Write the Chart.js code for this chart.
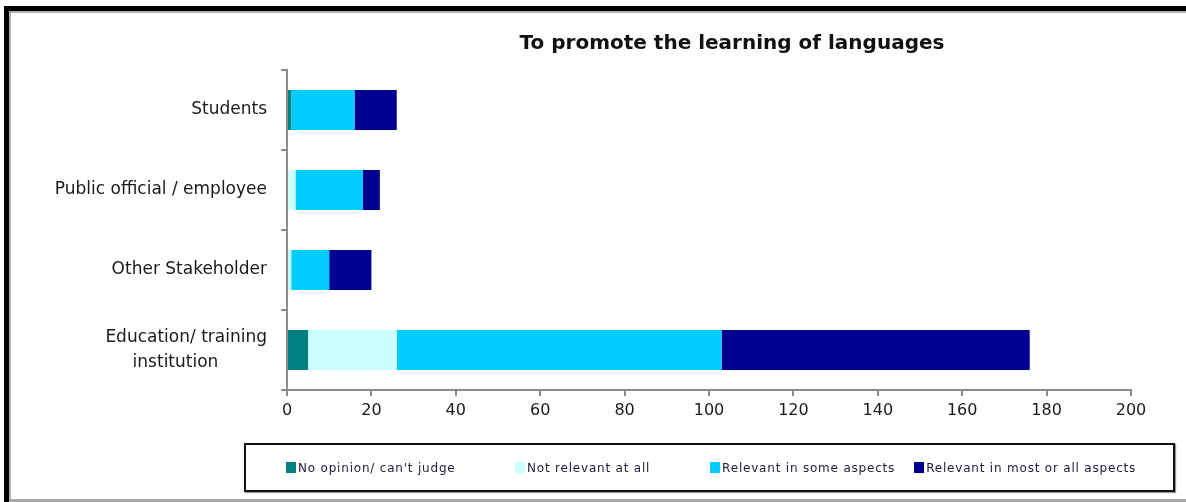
<!DOCTYPE html>
<html>
<head>
<meta charset="utf-8">
<script src="https://cdn.jsdelivr.net/npm/chart.js@4/dist/chart.umd.min.js"></script>
<style>
  html, body { margin: 0; padding: 0; background: #fff; }
  body { width: 1186px; height: 502px; position: relative; overflow: hidden; }
  #frame { position: absolute; left: 4px; top: 6px; width: 1182px; height: 496px; box-sizing: border-box;
           border-left: 5px solid #000; border-top: 5px solid #000; }
  #inner { position: absolute; left: 0; top: 0; right: 0; bottom: 0; box-sizing: border-box;
           border-left: 2px solid #b0b0b0; border-top: 2px solid #b0b0b0; border-bottom: 3px solid #a8a8a8; }
  #wrap { position: absolute; left: 0; top: 0; width: 1186px; height: 502px; }
  #legend { position: absolute; left: 244px; top: 443px; width: 931px; height: 49px; box-sizing: border-box;
            border: 2px solid #111; box-shadow: 1px 1px 1px #999; display: flex; align-items: center;
            font-family: "DejaVu Sans", sans-serif; font-size: 12px; color: #1b1b3a; letter-spacing: 0.8px; }
  .item { display: flex; align-items: center; white-space: nowrap; }
  .sw { width: 10px; height: 11px; margin-right: 2px; }
</style>
</head>
<body>
<div id="frame"><div id="inner"></div></div>
<div id="wrap"><canvas id="chart" width="1186" height="502"></canvas></div>
<div id="legend"></div>
<script>
// categories (top to bottom). second line of the last one is padded so it sits centred under the first
const categories = ['Students', 'Public official / employee', 'Other Stakeholder',
  ['Education/ training', 'institution\u00a0\u00a0\u00a0\u00a0\u00a0\u00a0\u00a0\u00a0\u00a0']];

// series
const seriesNames = ['No opinion/ can\'t judge', 'Not relevant at all', 'Relevant in some aspects', 'Relevant in most or all aspects'];
const noOpinion   = [1, 0, 0, 5];
const notRelevant = [0, 2, 1, 21];
const someAspects = [15, 16, 9, 77];
const mostAspects = [10, 4, 10, 73];
const colors = ['#008080', '#ccffff', '#00ccff', '#000090'];

const xTicks = [0, 20, 40, 60, 80, 100, 120, 140, 160, 180, 200];

const titleText = 'To promote the learning of languages';

const allSeries = [noOpinion, notRelevant, someAspects, mostAspects];

// title drawn by hand, it is not centred on the plot
const titlePlugin = {
  id: 'ownTitle',
  afterDraw(chart) {
    const c = chart.ctx;
    c.save();
    c.font = 'bold 20px "DejaVu Sans", sans-serif';
    c.fillStyle = '#111';
    c.textAlign = 'center';
    c.textBaseline = 'middle';
    c.fillText(titleText, 732, 44);
    c.restore();
  }
};

const axisColor = '#8a8a8a';

new Chart(document.getElementById('chart'), {
  type: 'bar',
  data: {
    labels: categories,
    datasets: allSeries.map((d, i) => ({
      label: seriesNames[i],
      data: d,
      backgroundColor: colors[i],
      borderWidth: 0,
      barPercentage: 1,
      categoryPercentage: 0.5
    }))
  },
  options: {
    indexAxis: 'y',
    responsive: false,
    animation: false,
    layout: { padding: { top: 70, right: 55, bottom: 0, left: 0 } },
    plugins: {
      legend: { display: false },
      tooltip: { enabled: false }
    },
    scales: {
      x: {
        stacked: true,
        min: 0,
        max: 200,
        afterBuildTicks: (s) => { s.ticks = xTicks.map(v => ({ value: v })); },
        afterFit: (s) => { s.height = 112; },
        border: { color: axisColor, width: 2 },
        grid: { drawOnChartArea: false, drawTicks: true, tickLength: 6, color: axisColor, lineWidth: 2 },
        ticks: { color: '#1a1a1a', padding: 5, font: { family: '"DejaVu Sans", sans-serif', size: 16 } }
      },
      y: {
        stacked: true,
        afterFit: (s) => { s.width = 287; },
        border: { color: axisColor, width: 2 },
        grid: { drawOnChartArea: false, drawTicks: true, tickLength: 6, color: axisColor, lineWidth: 2, offset: true },
        ticks: { color: '#1a1a1a', padding: 14, font: { family: '"DejaVu Sans", sans-serif', size: 17, lineHeight: 1.45 } }
      }
    }
  },
  plugins: [titlePlugin]
});

// legend built from the same arrays
const legend = document.getElementById('legend');
const itemWidths = [230, 196, 205, 260];
legend.style.paddingLeft = '40px';
seriesNames.forEach((name, i) => {
  const it = document.createElement('div');
  it.className = 'item';
  it.style.width = itemWidths[i] + 'px';
  const sw = document.createElement('span');
  sw.className = 'sw';
  sw.style.background = colors[i];
  const tx = document.createElement('span');
  tx.textContent = name;
  it.appendChild(sw);
  it.appendChild(tx);
  legend.appendChild(it);
});
</script>
</body>
</html>
